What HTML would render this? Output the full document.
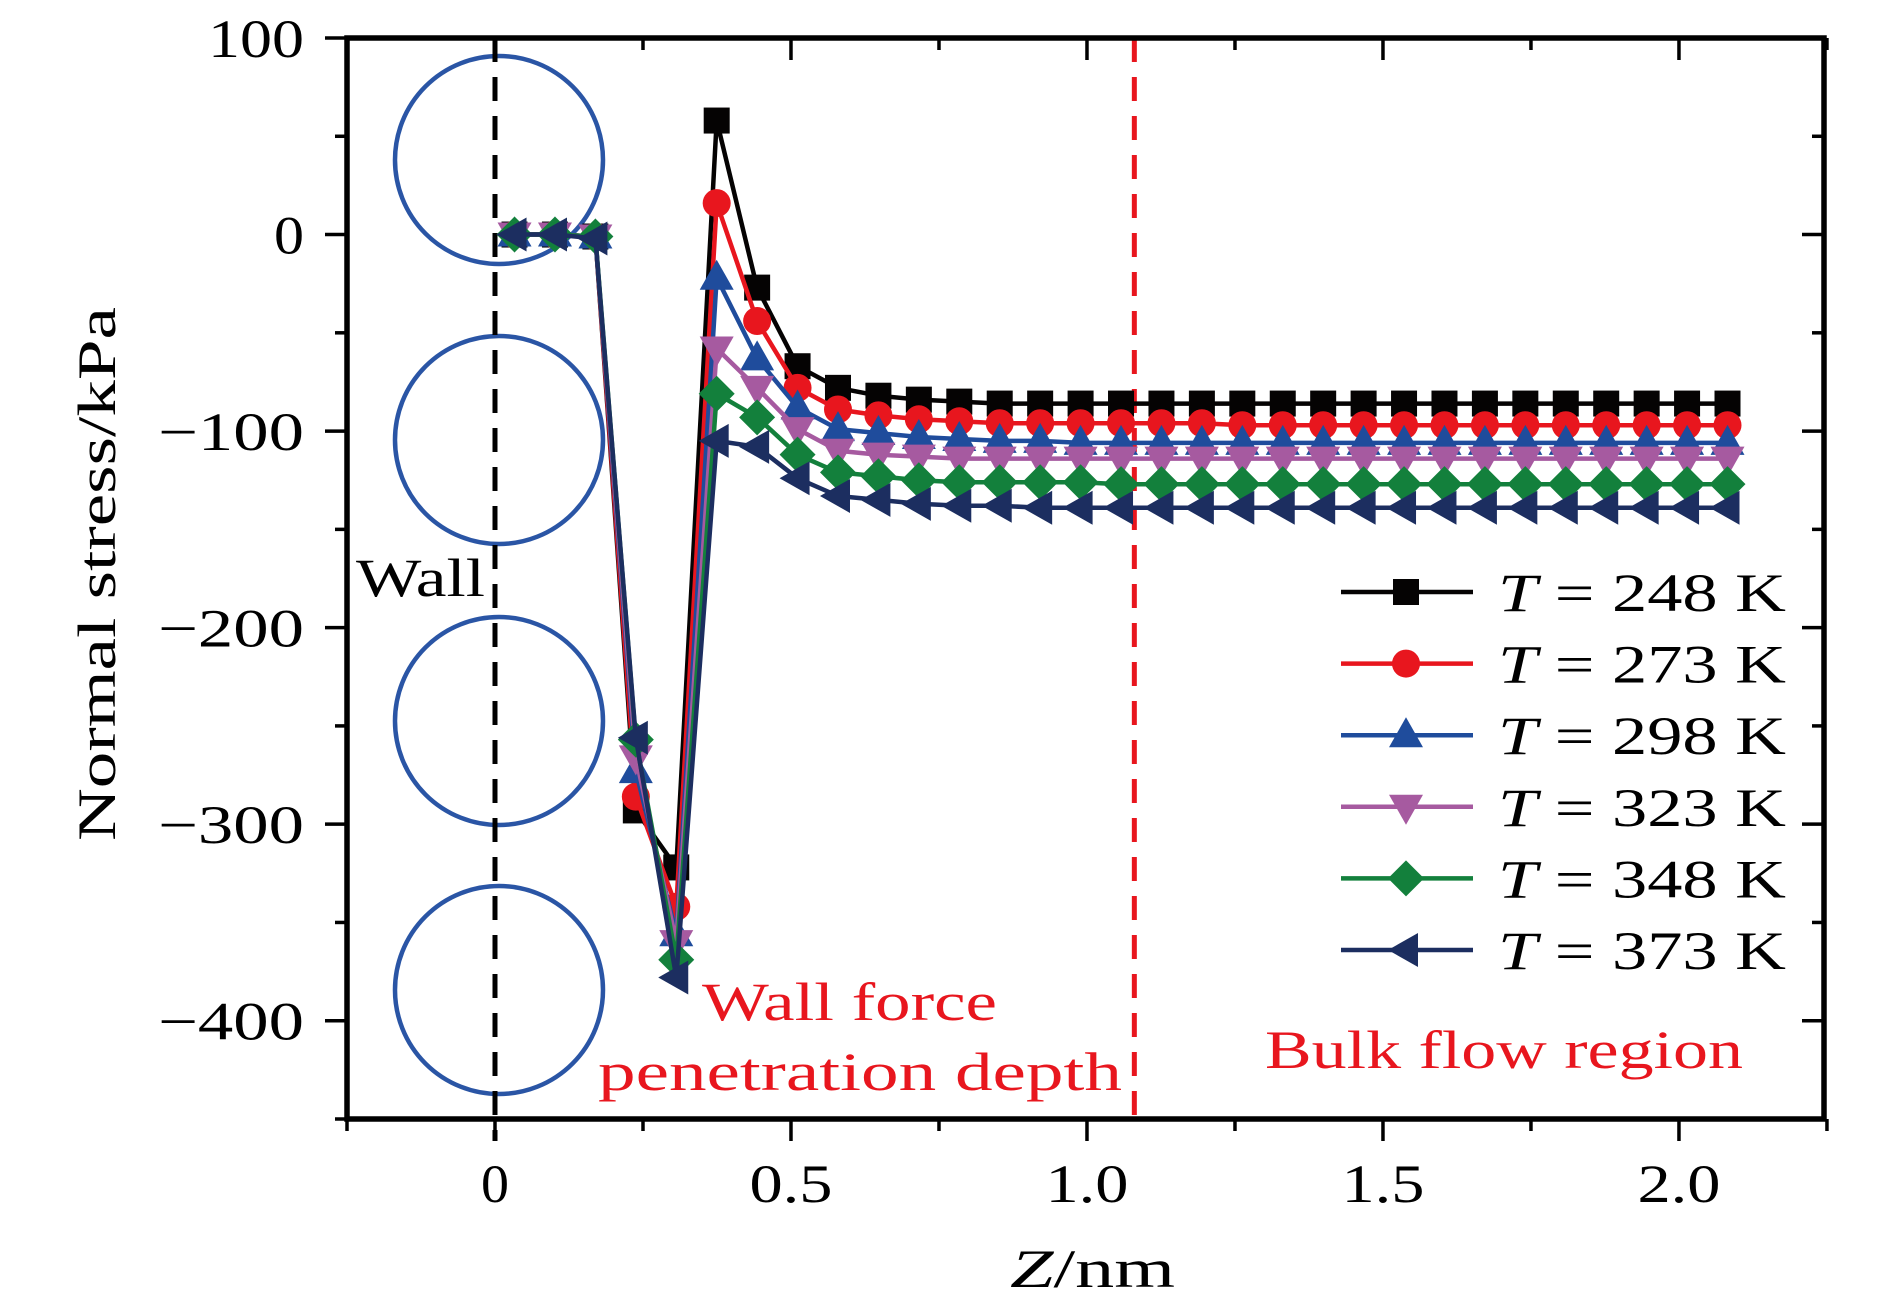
<!DOCTYPE html>
<html><head><meta charset="utf-8"><style>
html,body{margin:0;padding:0;background:#fff;}
svg{display:block;font-family:"Liberation Serif",serif;}
</style></head><body>
<svg id="chart" width="1890" height="1312" viewBox="0 0 1890 1312" xmlns="http://www.w3.org/2000/svg">
<g id="bg"></g>
<g id="series"></g>
<g id="axes"></g>
<g id="legend"></g>
</svg>
<script>
const zValues = [];
for (let i = 0; i < 31; i++) zValues.push(+(0.033 + i * 0.0683).toFixed(4));
const seriesNames = ["T = 248 K","T = 273 K","T = 298 K","T = 323 K","T = 348 K","T = 373 K"];
const s248 = [0,0,-1,-293,-322,58,-27,-67,-78,-82,-84,-85,-86,-86,-86,-86,-86,-86,-86,-86,-86,-86,-86,-86,-86,-86,-86,-86,-86,-86,-86];
const s273 = [0,0,-1,-286,-342,16,-44,-78,-89,-92,-94,-95,-96,-96,-96,-96,-96,-96,-97,-97,-97,-97,-97,-97,-97,-97,-97,-97,-97,-97,-97];
const s298 = [0,0,-1,-273,-356,-22,-63,-88,-99,-101,-103,-104,-105,-105,-106,-106,-106,-106,-106,-106,-106,-106,-106,-106,-106,-106,-106,-106,-106,-106,-106];
const s323 = [0,0,-1,-266,-360,-58,-78,-99,-110,-112,-113,-114,-114,-114,-114,-114,-114,-114,-114,-114,-114,-114,-114,-114,-114,-114,-114,-114,-114,-114,-114];
const s348 = [0,0,-1,-257,-369,-81,-93,-112,-121,-123,-125,-126,-126,-126,-126,-127,-127,-127,-127,-127,-127,-127,-127,-127,-127,-127,-127,-127,-127,-127,-127];
const s373 = [0,0,-2,-256,-378,-105,-108,-124,-133,-135,-137,-138,-138,-139,-139,-139,-139,-139,-139,-139,-139,-139,-139,-139,-139,-139,-139,-139,-139,-139,-139];
const xTicks = [0,0.5,1.0,1.5,2.0];
const xTickLabels = ["0","0.5","1.0","1.5","2.0"];
const yTicks = [100,0,-100,-200,-300,-400];
const yTickLabels = ["100","0","\u2212100","\u2212200","\u2212300","\u2212400"];

const NS="http://www.w3.org/2000/svg";
const L=347,R=1824,T=38,B=1119;
const xMin=-0.25,xMax=2.245,yMin=-450,yMax=100;
function X(v){return L+(v-xMin)/(xMax-xMin)*(R-L);}
function Y(v){return B-(v-yMin)/(yMax-yMin)*(B-T);}
function el(tag,attrs,parent,text){const e=document.createElementNS(NS,tag);for(const k in attrs)e.setAttribute(k,attrs[k]);if(text!==undefined)e.textContent=text;parent.appendChild(e);return e;}
const bg=document.getElementById('bg'),sg=document.getElementById('series'),ax=document.getElementById('axes'),lg=document.getElementById('legend');
function txt(attrs,parent,text,len){const a=Object.assign({},attrs);if(len){a.textLength=len;a.lengthAdjust='spacingAndGlyphs';}return el('text',a,parent,text);}

[160,440,721,990].forEach((cy)=>{
  const c=el('circle',{cx:X(0)+4,cy:cy,r:104,fill:'none',stroke:'#2a55a5','stroke-width':4.5},bg);
  
  
});
let d=el('line',{x1:X(0),y1:T,x2:X(0),y2:B+22,stroke:'#000','stroke-width':5,'stroke-dasharray':'24 15'},bg);


d=el('line',{x1:X(1.08),y1:T,x2:X(1.08),y2:B,stroke:'#e8161e','stroke-width':5,'stroke-dasharray':'24 15'},bg);


let t=txt({x:356,y:596,'font-size':54,fill:'#000'},bg,'Wall',129);


t=txt({x:702,y:1020,'font-size':54,fill:'#e8161e'},bg,'Wall force',295);


t=txt({x:598,y:1090,'font-size':54,fill:'#e8161e'},bg,'penetration depth',524);


t=txt({x:1265,y:1068,'font-size':54,fill:'#e8161e'},bg,'Bulk flow region',478);



const colors=['#050303','#e8161e','#1f4c9c','#a65aa0','#13803c','#1c2e60'];
const shapes=['square','circle','up','down','diamond','left'];
const allSeries=[s248,s273,s298,s323,s348,s373];
function marker(shape,x,y,c,parent){
  let m;
  if(shape==='square')m=el('rect',{x:x-13,y:y-13,width:26,height:26,fill:c},parent);
  else if(shape==='circle')m=el('circle',{cx:x,cy:y,r:14,fill:c},parent);
  else if(shape==='up')m=el('polygon',{points:`${x},${y-18} ${x-17},${y+12} ${x+17},${y+12}`,fill:c},parent);
  else if(shape==='down')m=el('polygon',{points:`${x},${y+18} ${x-17},${y-12} ${x+17},${y-12}`,fill:c},parent);
  else if(shape==='diamond')m=el('polygon',{points:`${x},${y-18} ${x+18},${y} ${x},${y+18} ${x-18},${y}`,fill:c},parent);
  else m=el('polygon',{points:`${x-18},${y} ${x+12},${y-17} ${x+12},${y+17}`,fill:c},parent);
  return m;
}
allSeries.forEach((s,si)=>{
  const g=el('g',{},sg);
  
  
  const pts=s.map((v,i)=>X(zValues[i]).toFixed(1)+','+Y(v).toFixed(1)).join(' ');
  const pl=el('polyline',{points:pts,fill:'none',stroke:colors[si],'stroke-width':4.5,'stroke-linejoin':'round'},g);
  
  
  s.forEach((v,i)=>{
    const m=marker(shapes[si],X(zValues[i]),Y(v),colors[si],g);
    
    
  });
});

const fr=el('rect',{x:L,y:T,width:R-L,height:B-T,fill:'none',stroke:'#000','stroke-width':5.5},ax);


for(let v=-0.25;v<=2.26;v+=0.25){
  const major=Math.abs(v*2-Math.round(v*2))<1e-6;
  const x=X(v);
  el('line',{x1:x,y1:B,x2:x,y2:B+(major?22:12),stroke:'#000','stroke-width':3.5},ax);
  el('line',{x1:x,y1:T,x2:x,y2:T+(major?22:12),stroke:'#000','stroke-width':3.5},ax);
}
xTicks.forEach((v,i)=>{
  const lbl=xTickLabels[i];
  const tl=txt({x:X(v),y:1202,'font-size':54,'text-anchor':'middle'},ax,lbl,lbl.length===1?28:83);
  
  
});
for(let v=100;v>=-450;v-=50){
  const major=v%100===0;
  const y=Y(v);
  el('line',{x1:L,y1:y,x2:L-(major?22:12),y2:y,stroke:'#000','stroke-width':3.5},ax);
  el('line',{x1:R,y1:y,x2:R-(major?22:12),y2:y,stroke:'#000','stroke-width':3.5},ax);
}
yTicks.forEach((v,i)=>{
  const lbl=yTickLabels[i];
  const w=lbl.length===1?30:(lbl.length===3?96:146);
  const tl=txt({x:304-w,y:Y(v)+19,'font-size':54},ax,lbl,w);
  
  
});
t=el('text',{x:1010,y:1287,'font-size':54,textLength:165,lengthAdjust:'spacingAndGlyphs'},ax);


el('tspan',{'font-style':'italic'},t,'Z');
el('tspan',{},t,'/nm');
t=el('text',{x:-841,y:115,'font-size':54,textLength:534,lengthAdjust:'spacingAndGlyphs',transform:'rotate(-90)'},ax,'Normal stress/kPa');



seriesNames.forEach((n,i)=>{
  const y=592+i*71.6;
  const g=el('g',{},lg);
  
  
  el('line',{x1:1341,y1:y,x2:1473,y2:y,stroke:colors[i],'stroke-width':4.5},g);
  marker(shapes[i],1406,y,colors[i],g);
  const tx=el('text',{x:1498,y:y+19,'font-size':54,textLength:288,lengthAdjust:'spacingAndGlyphs'},g);
  el('tspan',{'font-style':'italic'},tx,'T');
  el('tspan',{},tx,' = '+n.slice(4));
});
</script>
</body></html>
